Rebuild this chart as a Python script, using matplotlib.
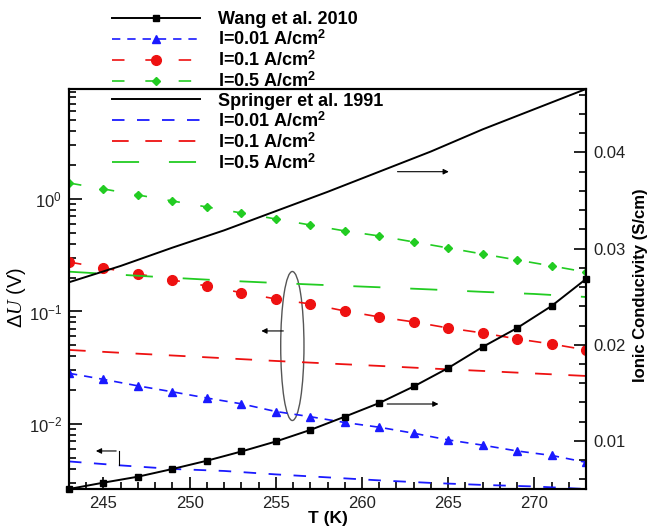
import numpy as np
import matplotlib
matplotlib.use('Agg')
import matplotlib.pyplot as plt
from matplotlib.lines import Line2D
from matplotlib.patches import Ellipse
from matplotlib.ticker import MultipleLocator, LogLocator, LogFormatterMathtext, NullFormatter

plt.rcParams['font.family'] = ['Liberation Sans', 'DejaVu Sans']
plt.rcParams['mathtext.fontset'] = 'custom'
plt.rcParams['mathtext.rm'] = 'Liberation Sans'
plt.rcParams['mathtext.bf'] = 'Liberation Sans:bold'
plt.rcParams['mathtext.it'] = 'Liberation Serif:italic'
plt.rcParams['lines.scale_dashes'] = False

# Data ------------------------------------------------------------------------

# Wang et al. 2010, markers every 2 K
T_wang = [243, 245, 247, 249, 251, 253, 255, 257, 259, 261, 263, 265, 267, 269, 271, 273]
sigma_wang = [0.0050, 0.00566, 0.00628, 0.00708, 0.00794, 0.0089, 0.00994, 0.01114,
              0.01252, 0.01394, 0.01566, 0.01758, 0.01977, 0.02174, 0.02403, 0.02684]
dU_wang_001 = [0.0282, 0.0249, 0.0218, 0.0193, 0.0170, 0.0151, 0.0129, 0.0116,
               0.0103, 0.00935, 0.00827, 0.00721, 0.00648, 0.00575, 0.00525, 0.00456]
dU_wang_01 = [0.275, 0.2435, 0.2154, 0.1905, 0.1685, 0.1469, 0.1292, 0.1166,
              0.1010, 0.0894, 0.0807, 0.0713, 0.0644, 0.0570, 0.0514, 0.0455]
dU_wang_05 = [1.387, 1.227, 1.085, 0.960, 0.849, 0.751, 0.664, 0.587,
              0.520, 0.469, 0.415, 0.367, 0.324, 0.287, 0.254, 0.224]

# Springer et al. 1991
T_spr = [243, 246, 249, 252, 255, 258, 261, 264, 267, 270, 273]
sigma_spr = [0.0265, 0.0282, 0.0301, 0.0319, 0.0339, 0.0359, 0.0380, 0.0401, 0.0424, 0.0445, 0.0466]
dU_spr_001 = [0.00464, 0.00428, 0.00398, 0.00382, 0.00356, 0.00335, 0.00315, 0.00299, 0.00287, 0.00278, 0.00264]
dU_spr_01 = [0.0455, 0.0429, 0.0406, 0.0384, 0.0363, 0.0345, 0.0328, 0.0311, 0.0296, 0.0281, 0.0267]
dU_spr_05 = [0.2258, 0.2120, 0.1993, 0.1882, 0.1792, 0.1713, 0.1641, 0.1569, 0.1494, 0.1431, 0.1345]

x_ticks = [245, 250, 255, 260, 265, 270]

blue = '#1a1aff'
red = '#ee1111'
green = '#22cc22'

# Figure ----------------------------------------------------------------------

fig = plt.figure(figsize=(6.54, 5.27), dpi=100)
ax = fig.add_axes([69/654, 1 - 489/527, 517/654, 400/527])
ax2 = ax.twinx()

# Wang curves (left axis)
ax.plot(T_wang, dU_wang_001, color=blue, lw=1.2, dashes=(6, 5), marker='^', ms=5.5)
ax.plot(T_wang, dU_wang_01, color=red, lw=1.2, dashes=(9, 15), marker='o', ms=7)
ax.plot(T_wang, dU_wang_05, color=green, lw=1.2, dashes=(9, 15), marker='D', ms=4.2)

# Springer curves (left axis)
ax.plot(T_spr, dU_spr_001, color=blue, lw=1.3, dashes=(9, 9))
ax.plot(T_spr, dU_spr_01, color=red, lw=1.3, dashes=(12, 12))
ax.plot(T_spr, dU_spr_05, color=green, lw=1.3, dashes=(19.5, 21.5))

# Ionic conductivity (right axis)
ax2.plot(T_wang, sigma_wang, color='black', lw=1.4, marker='s', ms=5, clip_on=False)
ax2.plot(T_spr, sigma_spr, color='black', lw=1.4)

# Axes ------------------------------------------------------------------------

ax.set_xlim(243, 273)
ax.set_yscale('log')
ax.set_ylim(0.00264, 9.5)
ax2.set_ylim(0.005, 0.0466)

ax.set_xticks(x_ticks)
ax.xaxis.set_minor_locator(MultipleLocator(1))
ax.yaxis.set_major_locator(LogLocator(base=10, numticks=10))
ax.yaxis.set_major_formatter(LogFormatterMathtext())
ax.yaxis.set_minor_locator(LogLocator(base=10, subs=np.arange(2, 10), numticks=20))
ax.yaxis.set_minor_formatter(NullFormatter())
ax2.yaxis.set_major_locator(MultipleLocator(0.01))
ax2.yaxis.set_minor_locator(MultipleLocator(0.002))

ax.tick_params(which='both', direction='in', top=False, right=False, labelsize=12,
               labelcolor='#222222', width=1.2)
ax.tick_params(which='major', length=9, pad=5)
ax.tick_params(which='minor', length=5)
ax2.tick_params(which='both', direction='in', labelsize=12, labelcolor='#222222', width=1.2)
ax2.tick_params(which='major', length=9, pad=5)
ax2.tick_params(which='minor', length=5)

for a in (ax, ax2):
    for s in a.spines.values():
        s.set_linewidth(1.5)

ax.set_xlabel('T (K)', fontsize=12.5, fontweight='bold', labelpad=0)
ax.set_ylabel(r'$\mathit{\Delta U}$ (V)', fontsize=14.5)
ax.yaxis.set_label_coords(-0.08, 0.48)
ax2.set_ylabel('Ionic Conducivity (S/cm)', fontsize=12, fontweight='bold')
ax2.yaxis.set_label_coords(1.09, 0.51)

# Annotations -----------------------------------------------------------------

arrow = dict(arrowstyle='-|>', color='black', lw=0.8, mutation_scale=8)
ax2.annotate('', xy=(265.2, 0.0380), xytext=(261.9, 0.0380), arrowprops=arrow)
ax2.annotate('', xy=(264.6, 0.01384), xytext=(261.3, 0.01384), arrowprops=arrow)
ax.annotate('', xy=(254.0, 0.0671), xytext=(255.6, 0.0671), arrowprops=arrow)
ax.annotate('', xy=(244.4, 0.00575), xytext=(245.9, 0.00575), arrowprops=arrow)
ax.plot([245.9, 245.9], [0.00575, 0.00432], color='black', lw=0.8)

ax.add_patch(Ellipse((0.432, 0.3575), 0.045, 0.3725, transform=ax.transAxes,
                     fill=False, edgecolor='#555555', lw=1.0))

# Legend ----------------------------------------------------------------------

handles = [
    Line2D([], [], color='black', lw=1.4, marker='s', ms=5),
    Line2D([], [], color=blue, lw=1.2, dashes=(6, 5), marker='^', ms=5.5),
    Line2D([], [], color=red, lw=1.2, dashes=(9, 15), marker='o', ms=7),
    Line2D([], [], color=green, lw=1.2, dashes=(9, 15), marker='D', ms=4.2),
    Line2D([], [], color='black', lw=1.4),
    Line2D([], [], color=blue, lw=1.3, dashes=(9, 9)),
    Line2D([], [], color=red, lw=1.3, dashes=(12, 12)),
    Line2D([], [], color=green, lw=1.3, dashes=(19.5, 21.5)),
]
labels = ['Wang et al. 2010',
          r'I=0.01 A/cm$^\mathbf{2}$',
          r'I=0.1 A/cm$^\mathbf{2}$',
          r'I=0.5 A/cm$^\mathbf{2}$',
          'Springer et al. 1991',
          r'I=0.01 A/cm$^\mathbf{2}$',
          r'I=0.1 A/cm$^\mathbf{2}$',
          r'I=0.5 A/cm$^\mathbf{2}$']
fig.legend(handles, labels, loc='upper left', bbox_to_anchor=(112/654, 1 - 11/527),
           frameon=False, numpoints=1, handlelength=4.9, handletextpad=0.95,
           labelspacing=0.09, borderpad=0, borderaxespad=0,
           prop={'weight': 'bold', 'size': 13})

fig.savefig('out.png', dpi=100)
